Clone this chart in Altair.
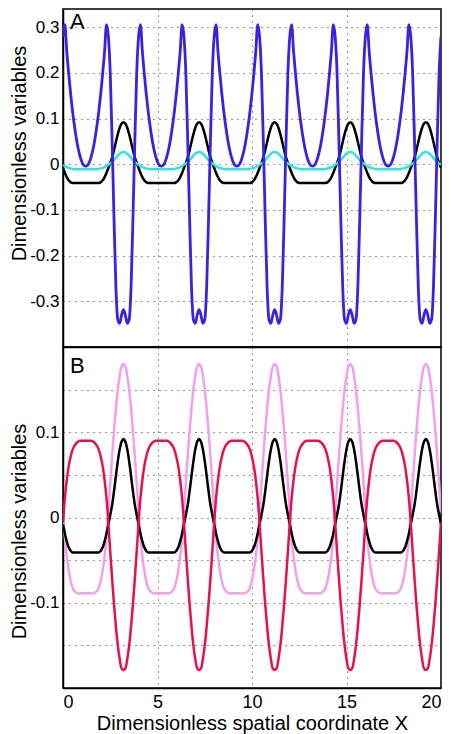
import altair as alt
import pandas as pd

# sampling positions along X (0 .. 20, step 0.1)
x = [round(i * 0.1, 1) for i in range(201)]

# Panel A: blue (large oscillation), black, cyan
blue = [
    0.28, 0.306, 0.247, 0.199, 0.156, 0.118, 0.086, 0.058, 0.035, 0.018,
    0.005, -0.002, -0.004, -0.002, 0.005, 0.018, 0.035, 0.058, 0.086, 0.118,
    0.156, 0.199, 0.247, 0.306, 0.28, 0.20, 0.05, -0.12, -0.27, -0.34,
    -0.348, -0.33, -0.318, -0.33, -0.348, -0.34, -0.27, -0.12, 0.05, 0.20,
    0.28, 0.306, 0.247, 0.199, 0.156, 0.118, 0.086, 0.058, 0.035, 0.018,
    0.005, -0.002, -0.004, -0.002, 0.005, 0.018, 0.035, 0.058, 0.086, 0.118,
    0.156, 0.199, 0.247, 0.306, 0.28, 0.20, 0.05, -0.12, -0.27, -0.34,
    -0.348, -0.33, -0.318, -0.33, -0.348, -0.34, -0.27, -0.12, 0.05, 0.20,
    0.28, 0.306, 0.247, 0.199, 0.156, 0.118, 0.086, 0.058, 0.035, 0.018,
    0.005, -0.002, -0.004, -0.002, 0.005, 0.018, 0.035, 0.058, 0.086, 0.118,
    0.156, 0.199, 0.247, 0.306, 0.28, 0.20, 0.05, -0.12, -0.27, -0.34,
    -0.348, -0.33, -0.318, -0.33, -0.348, -0.34, -0.27, -0.12, 0.05, 0.20,
    0.28, 0.306, 0.247, 0.199, 0.156, 0.118, 0.086, 0.058, 0.035, 0.018,
    0.005, -0.002, -0.004, -0.002, 0.005, 0.018, 0.035, 0.058, 0.086, 0.118,
    0.156, 0.199, 0.247, 0.306, 0.28, 0.20, 0.05, -0.12, -0.27, -0.34,
    -0.348, -0.33, -0.318, -0.33, -0.348, -0.34, -0.27, -0.12, 0.05, 0.20,
    0.28, 0.306, 0.247, 0.199, 0.156, 0.118, 0.086, 0.058, 0.035, 0.018,
    0.005, -0.002, -0.004, -0.002, 0.005, 0.018, 0.035, 0.058, 0.086, 0.118,
    0.156, 0.199, 0.247, 0.306, 0.28, 0.20, 0.05, -0.12, -0.27, -0.34,
    -0.348, -0.33, -0.318, -0.33, -0.348, -0.34, -0.27, -0.12, 0.05, 0.20,
    0.28,
]

black = [
    -0.008, -0.019, -0.028, -0.035, -0.039, -0.041, -0.041, -0.041, -0.041, -0.041,
    -0.041, -0.041, -0.041, -0.041, -0.041, -0.041, -0.041, -0.041, -0.041, -0.041,
    -0.039, -0.035, -0.028, -0.019, -0.008, 0.003, 0.015, 0.031, 0.049, 0.066,
    0.080, 0.089, 0.092, 0.089, 0.080, 0.066, 0.049, 0.031, 0.015, 0.003,
    -0.008, -0.019, -0.028, -0.035, -0.039, -0.041, -0.041, -0.041, -0.041, -0.041,
    -0.041, -0.041, -0.041, -0.041, -0.041, -0.041, -0.041, -0.041, -0.041, -0.041,
    -0.039, -0.035, -0.028, -0.019, -0.008, 0.003, 0.015, 0.031, 0.049, 0.066,
    0.080, 0.089, 0.092, 0.089, 0.080, 0.066, 0.049, 0.031, 0.015, 0.003,
    -0.008, -0.019, -0.028, -0.035, -0.039, -0.041, -0.041, -0.041, -0.041, -0.041,
    -0.041, -0.041, -0.041, -0.041, -0.041, -0.041, -0.041, -0.041, -0.041, -0.041,
    -0.039, -0.035, -0.028, -0.019, -0.008, 0.003, 0.015, 0.031, 0.049, 0.066,
    0.080, 0.089, 0.092, 0.089, 0.080, 0.066, 0.049, 0.031, 0.015, 0.003,
    -0.008, -0.019, -0.028, -0.035, -0.039, -0.041, -0.041, -0.041, -0.041, -0.041,
    -0.041, -0.041, -0.041, -0.041, -0.041, -0.041, -0.041, -0.041, -0.041, -0.041,
    -0.039, -0.035, -0.028, -0.019, -0.008, 0.003, 0.015, 0.031, 0.049, 0.066,
    0.080, 0.089, 0.092, 0.089, 0.080, 0.066, 0.049, 0.031, 0.015, 0.003,
    -0.008, -0.019, -0.028, -0.035, -0.039, -0.041, -0.041, -0.041, -0.041, -0.041,
    -0.041, -0.041, -0.041, -0.041, -0.041, -0.041, -0.041, -0.041, -0.041, -0.041,
    -0.039, -0.035, -0.028, -0.019, -0.008, 0.003, 0.015, 0.031, 0.049, 0.066,
    0.080, 0.089, 0.092, 0.089, 0.080, 0.066, 0.049, 0.031, 0.015, 0.003,
    -0.008,
]

cyan = [
    -0.001, -0.004, -0.006, -0.008, -0.009, -0.010, -0.011, -0.011, -0.011, -0.011,
    -0.011, -0.011, -0.011, -0.011, -0.011, -0.011, -0.011, -0.011, -0.011, -0.010,
    -0.009, -0.008, -0.006, -0.004, -0.001, 0.002, 0.005, 0.009, 0.014, 0.019,
    0.023, 0.026, 0.027, 0.026, 0.023, 0.019, 0.014, 0.009, 0.005, 0.002,
    -0.001, -0.004, -0.006, -0.008, -0.009, -0.010, -0.011, -0.011, -0.011, -0.011,
    -0.011, -0.011, -0.011, -0.011, -0.011, -0.011, -0.011, -0.011, -0.011, -0.010,
    -0.009, -0.008, -0.006, -0.004, -0.001, 0.002, 0.005, 0.009, 0.014, 0.019,
    0.023, 0.026, 0.027, 0.026, 0.023, 0.019, 0.014, 0.009, 0.005, 0.002,
    -0.001, -0.004, -0.006, -0.008, -0.009, -0.010, -0.011, -0.011, -0.011, -0.011,
    -0.011, -0.011, -0.011, -0.011, -0.011, -0.011, -0.011, -0.011, -0.011, -0.010,
    -0.009, -0.008, -0.006, -0.004, -0.001, 0.002, 0.005, 0.009, 0.014, 0.019,
    0.023, 0.026, 0.027, 0.026, 0.023, 0.019, 0.014, 0.009, 0.005, 0.002,
    -0.001, -0.004, -0.006, -0.008, -0.009, -0.010, -0.011, -0.011, -0.011, -0.011,
    -0.011, -0.011, -0.011, -0.011, -0.011, -0.011, -0.011, -0.011, -0.011, -0.010,
    -0.009, -0.008, -0.006, -0.004, -0.001, 0.002, 0.005, 0.009, 0.014, 0.019,
    0.023, 0.026, 0.027, 0.026, 0.023, 0.019, 0.014, 0.009, 0.005, 0.002,
    -0.001, -0.004, -0.006, -0.008, -0.009, -0.010, -0.011, -0.011, -0.011, -0.011,
    -0.011, -0.011, -0.011, -0.011, -0.011, -0.011, -0.011, -0.011, -0.011, -0.010,
    -0.009, -0.008, -0.006, -0.004, -0.001, 0.002, 0.005, 0.009, 0.014, 0.019,
    0.023, 0.026, 0.027, 0.026, 0.023, 0.019, 0.014, 0.009, 0.005, 0.002,
    -0.001,
]

# Panel B: pink (light violet), black (same as A), crimson
pink = [
    0.006, -0.024, -0.046, -0.062, -0.074, -0.082, -0.086, -0.088, -0.089, -0.089,
    -0.089, -0.089, -0.089, -0.089, -0.089, -0.089, -0.089, -0.088, -0.086, -0.082,
    -0.074, -0.062, -0.046, -0.024, 0.006, 0.040, 0.072, 0.102, 0.128, 0.150,
    0.166, 0.177, 0.180, 0.177, 0.166, 0.150, 0.128, 0.102, 0.072, 0.040,
    0.006, -0.024, -0.046, -0.062, -0.074, -0.082, -0.086, -0.088, -0.089, -0.089,
    -0.089, -0.089, -0.089, -0.089, -0.089, -0.089, -0.089, -0.088, -0.086, -0.082,
    -0.074, -0.062, -0.046, -0.024, 0.006, 0.040, 0.072, 0.102, 0.128, 0.150,
    0.166, 0.177, 0.180, 0.177, 0.166, 0.150, 0.128, 0.102, 0.072, 0.040,
    0.006, -0.024, -0.046, -0.062, -0.074, -0.082, -0.086, -0.088, -0.089, -0.089,
    -0.089, -0.089, -0.089, -0.089, -0.089, -0.089, -0.089, -0.088, -0.086, -0.082,
    -0.074, -0.062, -0.046, -0.024, 0.006, 0.040, 0.072, 0.102, 0.128, 0.150,
    0.166, 0.177, 0.180, 0.177, 0.166, 0.150, 0.128, 0.102, 0.072, 0.040,
    0.006, -0.024, -0.046, -0.062, -0.074, -0.082, -0.086, -0.088, -0.089, -0.089,
    -0.089, -0.089, -0.089, -0.089, -0.089, -0.089, -0.089, -0.088, -0.086, -0.082,
    -0.074, -0.062, -0.046, -0.024, 0.006, 0.040, 0.072, 0.102, 0.128, 0.150,
    0.166, 0.177, 0.180, 0.177, 0.166, 0.150, 0.128, 0.102, 0.072, 0.040,
    0.006, -0.024, -0.046, -0.062, -0.074, -0.082, -0.086, -0.088, -0.089, -0.089,
    -0.089, -0.089, -0.089, -0.089, -0.089, -0.089, -0.089, -0.088, -0.086, -0.082,
    -0.074, -0.062, -0.046, -0.024, 0.006, 0.040, 0.072, 0.102, 0.128, 0.150,
    0.166, 0.177, 0.180, 0.177, 0.166, 0.150, 0.128, 0.102, 0.072, 0.040,
    0.006,
]

crimson = [
    -0.006, 0.023, 0.044, 0.060, 0.071, 0.079, 0.084, 0.087, 0.089, 0.090,
    0.090, 0.090, 0.090, 0.090, 0.090, 0.090, 0.089, 0.087, 0.084, 0.079,
    0.071, 0.060, 0.044, 0.023, -0.006, -0.040, -0.072, -0.102, -0.128, -0.150,
    -0.166, -0.177, -0.179, -0.177, -0.166, -0.150, -0.128, -0.102, -0.072, -0.040,
    -0.006, 0.023, 0.044, 0.060, 0.071, 0.079, 0.084, 0.087, 0.089, 0.090,
    0.090, 0.090, 0.090, 0.090, 0.090, 0.090, 0.089, 0.087, 0.084, 0.079,
    0.071, 0.060, 0.044, 0.023, -0.006, -0.040, -0.072, -0.102, -0.128, -0.150,
    -0.166, -0.177, -0.179, -0.177, -0.166, -0.150, -0.128, -0.102, -0.072, -0.040,
    -0.006, 0.023, 0.044, 0.060, 0.071, 0.079, 0.084, 0.087, 0.089, 0.090,
    0.090, 0.090, 0.090, 0.090, 0.090, 0.090, 0.089, 0.087, 0.084, 0.079,
    0.071, 0.060, 0.044, 0.023, -0.006, -0.040, -0.072, -0.102, -0.128, -0.150,
    -0.166, -0.177, -0.179, -0.177, -0.166, -0.150, -0.128, -0.102, -0.072, -0.040,
    -0.006, 0.023, 0.044, 0.060, 0.071, 0.079, 0.084, 0.087, 0.089, 0.090,
    0.090, 0.090, 0.090, 0.090, 0.090, 0.090, 0.089, 0.087, 0.084, 0.079,
    0.071, 0.060, 0.044, 0.023, -0.006, -0.040, -0.072, -0.102, -0.128, -0.150,
    -0.166, -0.177, -0.179, -0.177, -0.166, -0.150, -0.128, -0.102, -0.072, -0.040,
    -0.006, 0.023, 0.044, 0.060, 0.071, 0.079, 0.084, 0.087, 0.089, 0.090,
    0.090, 0.090, 0.090, 0.090, 0.090, 0.090, 0.089, 0.087, 0.084, 0.079,
    0.071, 0.060, 0.044, 0.023, -0.006, -0.040, -0.072, -0.102, -0.128, -0.150,
    -0.166, -0.177, -0.179, -0.177, -0.166, -0.150, -0.128, -0.102, -0.072, -0.040,
    -0.006,
]

x_ticks = [0, 5, 10, 15, 20]
a_ticks = [-0.3, -0.2, -0.1, 0, 0.1, 0.2, 0.3]
b_ticks = [-0.15, -0.1, -0.05, 0, 0.05, 0.1, 0.15]
panel_letters = ["A", "B"]
y_title = "Dimensionless variables"
x_title = "Dimensionless spatial coordinate X"

FONT = "Liberation Sans"
GRID = dict(grid=True, gridDash=[1, 5], gridColor="#333333", gridWidth=1)

xscale = alt.Scale(domain=[0, 20], nice=False, zero=False)
a_scale = alt.Scale(domain=[-0.4, 0.34], nice=False, zero=False)
b_scale = alt.Scale(domain=[-0.2, 0.2], nice=False, zero=False)

xaxis_a = alt.Axis(values=x_ticks, labels=False, ticks=False, title=None, **GRID)
xaxis_b = alt.Axis(values=x_ticks, ticks=False, labelFontSize=18, labelPadding=5,
                   title=x_title, titleFontSize=20, titleFontWeight="normal",
                   titlePadding=2, **GRID)

yaxis_a = alt.Axis(values=a_ticks, ticks=False, labelFontSize=17, labelPadding=4,
                   labelExpr="'' + round(datum.value*10)/10",
                   title=y_title, titleFontSize=20, titleFontWeight="normal",
                   titleAngle=270, titleAlign="center", titleBaseline="bottom",
                   titleX=-34, titleY=144, **GRID)
yaxis_b = alt.Axis(values=b_ticks, ticks=False, labelFontSize=17, labelPadding=4,
                   labelExpr="abs(round(datum.value*100)) % 10 == 0 ? '' + round(datum.value*10)/10 : ''",
                   title=y_title, titleFontSize=20, titleFontWeight="normal",
                   titleAngle=270, titleAlign="center", titleBaseline="bottom",
                   titleX=-34, titleY=184, **GRID)


def line(vals, color, yscale, xaxis, yaxis, width=2.5, interp="catmull-rom"):
    df = pd.DataFrame({"x": x, "y": vals})
    return alt.Chart(df).mark_line(color=color, strokeWidth=width,
                                   interpolate=interp, clip=True).encode(
        x=alt.X("x:Q", scale=xscale, axis=xaxis),
        y=alt.Y("y:Q", scale=yscale, axis=yaxis),
    )


def letter(txt, ypix):
    df = pd.DataFrame({"label": [txt]})
    return alt.Chart(df).mark_text(
        font=FONT, fontSize=22, align="left", baseline="alphabetic", color="black"
    ).encode(text="label:N", x=alt.value(7), y=alt.value(ypix))


panel_a = alt.layer(
    line(black, "#000000", a_scale, xaxis_a, yaxis_a),
    line(cyan, "#2ee3e8", a_scale, xaxis_a, yaxis_a),
    line(blue, "#3a22e0", a_scale, xaxis_a, yaxis_a, 2.8, "monotone"),
    letter(panel_letters[0], 20),
).properties(width=378, height=338)

panel_b = alt.layer(
    line(pink, "#f0a0ee", b_scale, xaxis_b, yaxis_b),
    line(black, "#000000", b_scale, xaxis_b, yaxis_b),
    line(crimson, "#e5124e", b_scale, xaxis_b, yaxis_b),
    letter(panel_letters[1], 26),
).properties(width=378, height=341)

chart = alt.vconcat(panel_a, panel_b, spacing=0, bounds="flush").properties(
    padding={"left": 0, "top": 0, "right": 0, "bottom": 0},
    background="white",
).configure_view(
    stroke="black", strokeWidth=1.5,
).configure_axis(
    domainColor="black", domainWidth=1.5, labelColor="black", titleColor="black",
    labelFont=FONT, titleFont=FONT,
)

chart.save("out.html", embed_options={"renderer": "svg", "actions": False})
